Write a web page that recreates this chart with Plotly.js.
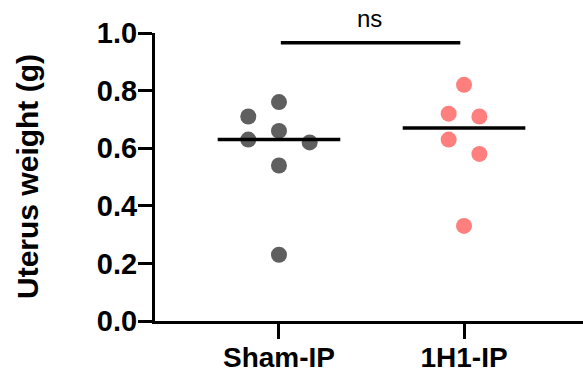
<!DOCTYPE html>
<html><head><meta charset="utf-8">
<script src="https://cdn.plot.ly/plotly-3.0.1.min.js"></script>
<style>html,body{margin:0;padding:0;background:#fff}#chart{width:583px;height:375px}</style>
</head><body><div id="chart"></div>
<script>
// ---- data ----
const categories = ['Sham-IP', '1H1-IP'];
const shamValues = [0.71, 0.76, 0.63, 0.66, 0.62, 0.54, 0.23];
const h1Values = [0.82, 0.72, 0.71, 0.63, 0.58, 0.33];
const yTickValues = [0.0, 0.2, 0.4, 0.6, 0.8, 1.0];
const significanceLabel = 'ns';
const yTitleText = 'Uterus weight (g)';

// ---- layout constants ----
const W = 583, H = 375;
const M = {l: 155, r: 0, t: 33, b: 54};
const xRange = [-0.67, 1.643];
const yRange = [0, 1.0];
const pxPerX = (W - M.l - M.r) / (xRange[1] - xRange[0]);
const pxPerY = (H - M.t - M.b) / (yRange[1] - yRange[0]);
const colors = ['#5f5f5f', '#ff7f7f'];
const markerSize = 16;
const stepPx = 30.7, minDistPx = 22, medianHalfPx = 61.3;
const font = 'Liberation Sans, Arial, Helvetica, sans-serif';

function median(a) {
  const s = [...a].sort((p, q) => p - q), n = s.length;
  return n % 2 ? s[(n - 1) / 2] : (s[n / 2 - 1] + s[n / 2]) / 2;
}

// simple beeswarm: descending order, clusters of close values, greedy non-overlap
function swarmOffsets(vals) {
  const idx = vals.map((v, i) => i).sort((a, b) => vals[b] - vals[a]);
  const clusters = [];
  idx.forEach((i, k) => {
    if (k > 0 && (vals[idx[k - 1]] - vals[i]) * pxPerY < minDistPx) clusters[clusters.length - 1].push(i);
    else clusters.push([i]);
  });
  const placed = [];
  const off = new Array(vals.length).fill(0);
  clusters.forEach(cl => {
    const cands = [];
    if (cl.length % 2) { cands.push(0); for (let j = 1; j <= 4; j++) cands.push(-j * stepPx, j * stepPx); }
    else { for (let j = 0; j < 4; j++) cands.push(-(j + 0.5) * stepPx, (j + 0.5) * stepPx); }
    cl.forEach(i => {
      const y = vals[i] * pxPerY;
      for (const c of cands) {
        if (placed.every(p => Math.hypot(p.x - c, p.y - y) >= minDistPx)) {
          off[i] = c; placed.push({x: c, y: y}); break;
        }
      }
    });
  });
  return off.map(o => o / pxPerX);
}

const groups = [shamValues, h1Values];
const traces = [];
groups.forEach((vals, gi) => {
  const offs = swarmOffsets(vals);
  traces.push({
    type: 'scatter', mode: 'markers',
    x: vals.map((v, i) => gi + offs[i]), y: vals,
    marker: {color: colors[gi], size: markerSize, line: {width: 0}},
    hoverinfo: 'y', showlegend: false
  });
  const m = median(vals), hw = medianHalfPx / pxPerX;
  traces.push({
    type: 'scatter', mode: 'lines',
    x: [gi - hw, gi + hw], y: [m, m],
    line: {color: '#000', width: 3.5}, hoverinfo: 'skip', showlegend: false
  });
});
// significance bar
traces.push({
  type: 'scatter', mode: 'lines',
  x: [0.01, 0.98], y: [0.966, 0.966],
  line: {color: '#000', width: 3.5}, hoverinfo: 'skip', showlegend: false, cliponaxis: false
});

const layout = {
  width: W, height: H, margin: M,
  paper_bgcolor: '#fff', plot_bgcolor: '#fff',
  showlegend: false,
  font: {family: font, color: '#000'},
  xaxis: {
    range: xRange, tickmode: 'array', tickvals: [0, 1], ticktext: categories,
    showline: true, linecolor: '#000', linewidth: 3,
    ticks: 'outside', ticklen: 15, tickwidth: 3, tickcolor: '#000',
    showgrid: false, zeroline: false, fixedrange: true, ticklabelstandoff: -6,
    tickfont: {family: font, size: 28, weight: 'bold', color: '#000'}
  },
  yaxis: {
    range: yRange, tickmode: 'array', tickvals: yTickValues,
    ticktext: yTickValues.map(v => v.toFixed(1)),
    showline: true, linecolor: '#000', linewidth: 3,
    ticks: 'outside', ticklen: 14, tickwidth: 3, tickcolor: '#000',
    showgrid: false, zeroline: false, fixedrange: true, ticklabelstandoff: -5,
    tickfont: {family: font, size: 29, weight: 'bold', color: '#000'}
  },
  annotations: [{
    x: 0.49, y: 1.052, xref: 'x', yref: 'paper', text: significanceLabel,
    showarrow: false, xanchor: 'center', yanchor: 'middle',
    font: {family: font, size: 24, color: '#000'}
  }, {
    x: (27 - M.l) / (W - M.l - M.r), y: 0.5, xref: 'paper', yref: 'paper',
    text: '<b>' + yTitleText + '</b>', textangle: -90,
    showarrow: false, xanchor: 'center', yanchor: 'middle',
    font: {family: font, size: 30, color: '#000'}
  }]
};
Plotly.newPlot('chart', traces, layout, {displayModeBar: false, staticPlot: true});
</script></body></html>
